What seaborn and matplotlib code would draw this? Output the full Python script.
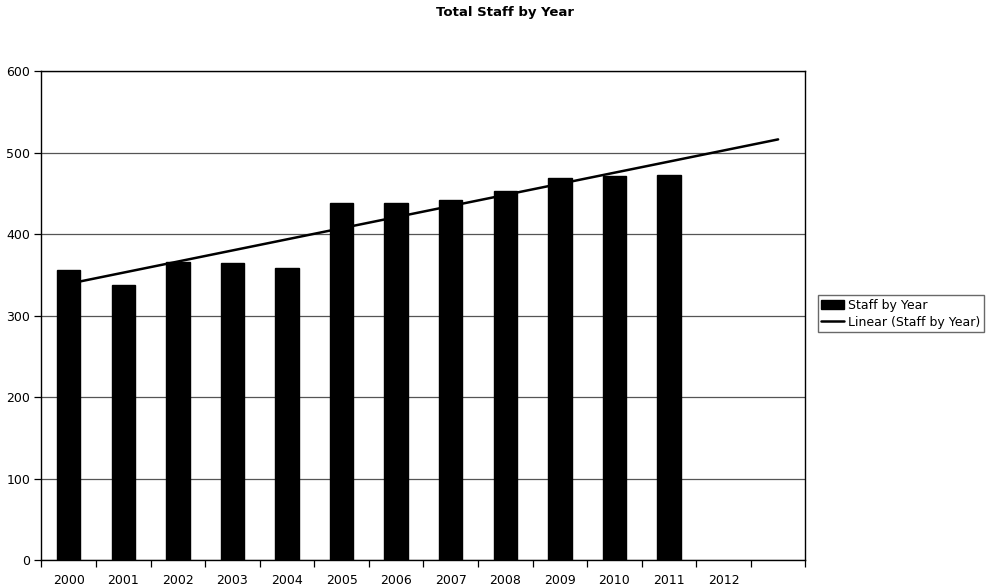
import numpy as np
import pandas as pd
import matplotlib
matplotlib.use("Agg")
import matplotlib.pyplot as plt
import seaborn as sns
from matplotlib.patches import Patch
from matplotlib.lines import Line2D

years = ["2000", "2001", "2002", "2003", "2004", "2005", "2006",
         "2007", "2008", "2009", "2010", "2011"]
staff = [356, 338, 366, 365, 358, 438, 438, 442, 453, 469, 471, 473]
slot_labels = years + ["2012", ""]
y_ticks = [0, 100, 200, 300, 400, 500, 600]

sns.set_theme(style="white")
plt.rcParams["font.family"] = ["DejaVu Sans"]
plt.rcParams["text.color"] = "black"
plt.rcParams["xtick.color"] = "black"
plt.rcParams["ytick.color"] = "black"
plt.rcParams["axes.labelcolor"] = "black"

fig = plt.figure(figsize=(9.87, 5.87), dpi=100)
ax = fig.add_axes([0.042, 0.046, 0.774, 0.833])

df = pd.DataFrame({"Year": years, "Staff": staff})
order = [s if s else " " for s in slot_labels]
sns.barplot(data=df, x="Year", y="Staff", order=order, color="black",
            width=0.43, saturation=1, ax=ax, zorder=3, edgecolor="black")

# linear trendline, forecast forward to last slot
xi = np.arange(len(staff))
slope, intercept = np.polyfit(xi, staff, 1)
xt = np.array([0, len(slot_labels) - 1])
ax.plot(xt, intercept + slope * xt, color="black", lw=1.8, zorder=4)

ax.set_xlim(-0.5, len(slot_labels) - 0.5)
ax.set_ylim(0, 600)
ax.set_yticks(y_ticks)
ax.set_yticklabels([str(v) for v in y_ticks], fontsize=9)
ax.yaxis.grid(True, color="#555555", lw=0.9)
ax.set_axisbelow(True)

# ticks between categories, labels at centers
ax.set_xticks(np.arange(-0.5, len(slot_labels), 1))
ax.set_xticklabels([])
ax.set_xticks(np.arange(len(slot_labels)), minor=True)
ax.set_xticklabels(slot_labels, minor=True, fontsize=9)
ax.tick_params(axis="x", which="major", length=5, width=0.9, color="black", direction="out", bottom=True)
ax.tick_params(axis="x", which="minor", length=0, pad=10)
ax.tick_params(axis="y", length=5, width=0.9, color="black", direction="out", left=True, pad=3)
ax.set_xlabel("")
ax.set_ylabel("")
for sp in ax.spines.values():
    sp.set_visible(True)
    sp.set_color("black")
    sp.set_linewidth(1.0)

fig.text(0.512, 0.978, "Total Staff by Year", ha="center", va="center",
         fontsize=9.5, fontweight="bold", color="black")

handles = [Patch(facecolor="black", edgecolor="black", label="Staff by Year"),
           Line2D([0], [0], color="black", lw=1.8, label="Linear (Staff by Year)")]
fig.legend(handles=handles, loc="upper left", bbox_to_anchor=(0.822, 0.508),
           frameon=True, fontsize=9, handlelength=1.8, handletextpad=0.3,
           borderpad=0.3, labelspacing=0.3, fancybox=False, edgecolor="#444444")

fig.savefig("out.png", dpi=100)
